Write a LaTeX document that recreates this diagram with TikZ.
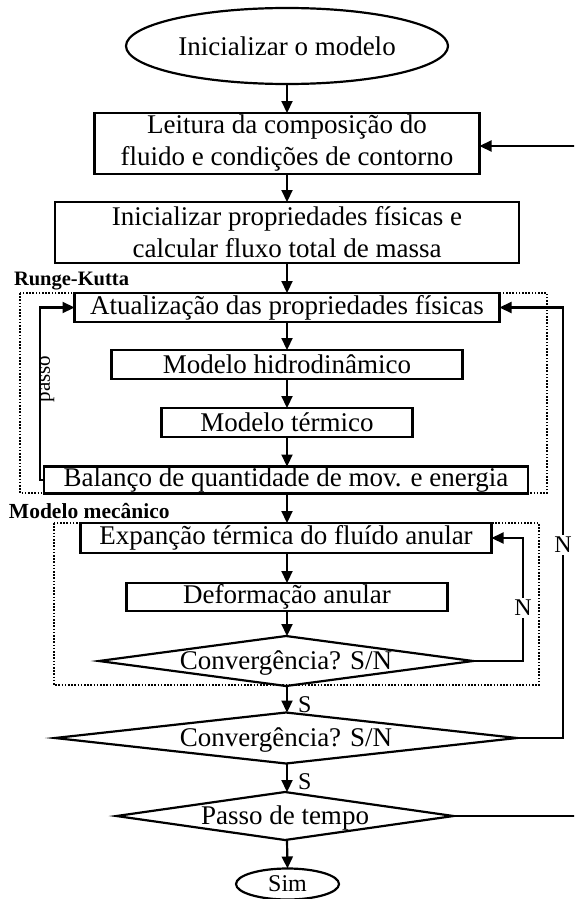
\documentclass[tikz,border=0pt]{standalone}
\usepackage{fontspec}
\setmainfont{Liberation Serif}
\usetikzlibrary{shapes.geometric,arrows.meta}
\begin{document}
\begin{tikzpicture}[x=1pt,y=-1pt,
  every node/.style={inner sep=0pt, outer sep=0pt},
  proc/.style={draw, line width=2.2pt, rectangle, align=center, font=\fontsize{27}{32}\selectfont},
  term/.style={draw, line width=2.2pt, ellipse, font=\fontsize{27}{32}\selectfont},
  dec/.style={draw, line width=2.2pt, diamond},
  dectext/.style={font=\fontsize{27}{32}\selectfont},
  arr/.style={line width=2.2pt, -{Triangle[length=12pt,width=11pt]}},
  grp/.style={draw, line width=1.4pt, dash pattern=on 1.6pt off 1.6pt},
  grplabel/.style={font=\bfseries\fontsize{20.5}{24}\selectfont},
  yn/.style={font=\fontsize{24}{28}\selectfont}]
\useasboundingbox (0,0) rectangle (574,899);
\clip (0,0) rectangle (574,899);

% group frames
\draw[grp] (20,293) rectangle (547,493);
\draw[grp] (54,523) rectangle (539,685);
\node[grplabel, anchor=base west] (lrk) at (14,285) {Runge-Kutta};
\node[grplabel, anchor=base west, font=\bfseries\fontsize{21.5}{24}\selectfont] (lmm) at (9,518) {Modelo mecânico};

% nodes
\node[term, minimum width=322pt, minimum height=76pt] (start) at (287,46) {Inicializar o modelo};
\node[proc, minimum width=385pt, minimum height=61pt] (b1) at (287,143.5) {Leitura da composição do\\fluido e condições de contorno};
\node[proc, minimum width=464pt, minimum height=61pt] (b2) at (287,232.5) {Inicializar propriedades físicas e\\calcular fluxo total de massa};
\node[proc, minimum width=425pt, minimum height=29pt] (b3) at (287,307.5) {Atualização das propriedades físicas};
\node[proc, minimum width=351pt, minimum height=29pt] (b4) at (287,364.5) {Modelo hidrodinâmico};
\node[proc, minimum width=251pt, minimum height=29pt] (b5) at (287,422.5) {Modelo térmico};
\node[proc, minimum width=484pt, minimum height=27pt] (b6) at (286,480) {Balanço de quantidade de mov. e energia};
\node[proc, minimum width=411pt, minimum height=30pt] (b7) at (286,538) {Expanção térmica do fluído anular};
\node[proc, minimum width=321pt, minimum height=28pt] (b8) at (287,597) {Deformação anular};
\node[dec, minimum width=374pt, minimum height=50pt] (d1) at (286,661) {};
\node[dectext] (t1) at (286,663) {Convergência? S/N};
\node[dec, minimum width=462pt, minimum height=51pt] (d2) at (286,738) {};
\node[dectext] (t2) at (286,740) {Convergência? S/N};
\node[dec, minimum width=337pt, minimum height=48pt] (d3) at (285,816) {};
\node[dectext] (t3) at (285,818) {Passo de tempo};
\node[term, minimum width=103pt, minimum height=31pt, font=\fontsize{24}{28}\selectfont] (sim) at (287.5,884) {Sim};

% main flow
\draw[arr] (start.south) -- (b1.north);
\draw[arr] (b1.south) -- (b2.north);
\draw[arr] (b2.south) -- (b2.south |- b3.north);
\draw[arr] (b3.south) -- (b3.south |- b4.north);
\draw[arr] (b4.south) -- (b4.south |- b5.north);
\draw[arr] (b5.south) -- (b5.south |- b6.north);
\draw[arr] (b5.south |- b6.south) -- (b5.south |- b7.north);
\draw[arr] (b5.south |- b7.south) -- (b5.south |- b8.north);
\draw[arr] (b8.south) -- (b8.south |- d1.north);
\draw[arr] (b8.south |- d1.south) -- (b8.south |- d2.north);
\draw[arr] (b8.south |- d2.south) -- (b8.south |- d3.north);
\draw[arr] (b8.south |- d3.south) -- (sim.north);

% loops
\coordinate (cp) at (40,480);
\draw[arr] (b6.west) -- (cp) |- (b3.west);
\node[font=\fontsize{21}{24}\selectfont, rotate=90, anchor=north] (lp) at (40,379) {passo};

\coordinate (cn1) at (523,661);
\draw[arr] (d1.east) -- (cn1) |- (b7.east);
\node[yn, fill=white, inner sep=2pt] (ln1) at (523,608) {N};

\coordinate (cn2) at (563,738);
\draw[arr] (d2.east) -- (cn2) |- (b3.east);
\node[yn, fill=white, inner sep=2pt] (ln2) at (563,545) {N};

\coordinate (ct) at (590,816);
\draw[arr] (d3.east) -- (ct) |- ([yshift=-2.5pt]b1.east);

\node[yn, anchor=base west] (ls1) at (298,712) {S};
\node[yn, anchor=base west] (ls2) at (298,789) {S};
\end{tikzpicture}
\end{document}
